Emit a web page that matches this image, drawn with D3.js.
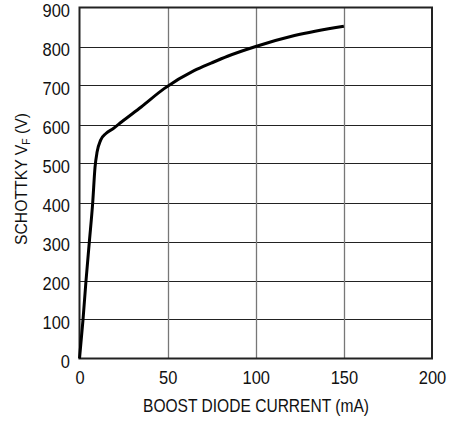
<!DOCTYPE html>
<html><head><meta charset="utf-8">
<script src="https://cdn.jsdelivr.net/npm/d3@7"></script>
<style>body{margin:0;background:#fff}svg text{font-family:"Liberation Sans",Arial,sans-serif;fill:#111}</style>
</head><body><svg id="c" width="451" height="421"></svg>
<script>
const xTicks = [0, 50, 100, 150, 200];
const yTicks = [0, 100, 200, 300, 400, 500, 600, 700, 800, 900];
const currentMA = [0, 2, 3.7, 5.6, 7.5, 8.8, 10, 12, 15, 19, 24, 35, 48, 65, 75, 84, 100, 122, 150];
const vfV = [0, 100, 200, 300, 400, 490, 530, 560, 577, 589, 607, 645, 692, 738, 758, 775, 800, 828, 852];
const xTitle = "BOOST DIODE CURRENT (mA)";

const L = 79.5, R = 432, T = 7.5, B = 358.5;
const svg = d3.select("#c");
const x = d3.scaleLinear().domain([0, 200]).range([L, R]);
const y = d3.scaleLinear().domain([0, 900]).range([B, T]);
const squeeze = (sel, k) => sel.each(function () {
  const w = this.getComputedTextLength();
  d3.select(this).attr("textLength", w * k).attr("lengthAdjust", "spacingAndGlyphs");
});

// grid
svg.append("g").selectAll("line").data(yTicks.slice(1, -1)).join("line")
  .attr("x1", L).attr("x2", R).attr("y1", d => Math.round(y(d)) + 0.5).attr("y2", d => Math.round(y(d)) + 0.5)
  .attr("stroke", "#222").attr("stroke-width", 1);
svg.append("g").selectAll("line").data(xTicks.slice(1, -1)).join("line")
  .attr("y1", T).attr("y2", B).attr("x1", d => Math.round(x(d)) + 0.5).attr("x2", d => Math.round(x(d)) + 0.5)
  .attr("stroke", "#777").attr("stroke-width", 1.3);

// axes (labels only)
const xa = svg.append("g").attr("transform", `translate(0,${B})`).call(d3.axisBottom(x).tickValues(xTicks).tickSize(0).tickPadding(0));
const ya = svg.append("g").attr("transform", `translate(${L},0)`).call(d3.axisLeft(y).tickValues(yTicks).tickSize(0).tickPadding(9.5));
[xa, ya].forEach(a => { a.select(".domain").remove(); a.selectAll("text").attr("font-size", 18.5).attr("font-family", null).attr("fill", "#111"); });
xa.selectAll("text").attr("y", 25.5).attr("dy", null);
ya.selectAll("text").attr("dy", 9);
squeeze(xa.selectAll("text"), 0.89);
squeeze(ya.selectAll("text"), 0.89);

// frame
svg.append("rect").attr("x", L).attr("y", T).attr("width", R - L).attr("height", B - T)
  .attr("fill", "none").attr("stroke", "#222").attr("stroke-width", 2);

// curve
const pts = currentMA.map((c, i) => [c, vfV[i]]);
svg.append("path").datum(pts)
  .attr("d", d3.line().x(d => x(d[0])).y(d => y(d[1])).curve(d3.curveMonotoneX))
  .attr("fill", "none").attr("stroke", "#000").attr("stroke-width", 3).attr("stroke-linejoin", "round");

// titles
const xt = svg.append("text").attr("x", 143).attr("y", 412).attr("font-size", 19).text(xTitle);
xt.attr("textLength", 226).attr("lengthAdjust", "spacingAndGlyphs");
const yt = svg.append("text").attr("transform", `translate(26.5,245) rotate(-90)`).attr("font-size", 16.5)
  .attr("textLength", 132).attr("lengthAdjust", "spacingAndGlyphs");
yt.append("tspan").text("SCHOTTKY V");
yt.append("tspan").attr("font-size", 11).attr("dy", 3).text("F");
yt.append("tspan").attr("dy", -3).text(" (V)");
</script></body></html>
